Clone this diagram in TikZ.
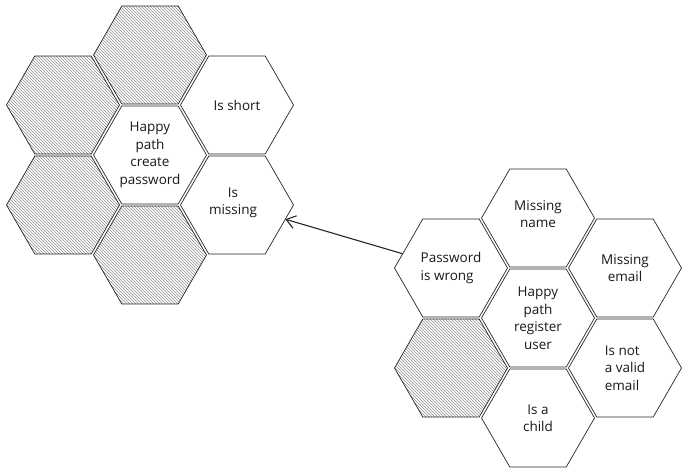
\documentclass[tikz,border=0pt]{standalone}
\usepackage{fontspec}
\setmainfont{Open Sans}
\usetikzlibrary{shapes.geometric, arrows.meta, patterns}

\begin{document}
\begin{tikzpicture}[x=1pt, y=-1pt,
  hex/.style={regular polygon, regular polygon sides=6, minimum size=113pt,
              inner sep=0pt, outer sep=0pt, draw=black!85, line width=0.7pt},
  blank/.style={hex, pattern=north west lines, pattern color=black!45},
  txt/.style={align=center, font=\fontsize{13.5}{17.5}\selectfont, text=black!90},
  ltxt/.style={txt, align=left},
  arr/.style={-{Straight Barb[length=9pt, width=13pt]}, line width=1.1pt, color=black!85},
]
\useasboundingbox (0,0) rectangle (690,474);

% --- Left cluster: create password ---
\node[hex, label={[txt]center:{Happy\\path\\create\\password}}] (create) at (150,155) {};
\node[blank] (topL) at (150,55) {};
\node[blank] (upL) at (63,105) {};
\node[blank] (lowL) at (63,205) {};
\node[blank] (botL) at (150,255) {};
\node[hex, label={[txt]center:Is short}] (short) at (237,105) {};
\node[hex, label={[txt, yshift=2pt, xshift=-4pt]center:{Is\\missing}}] (missing) at (237,205) {};

% --- Right cluster: register user ---
\node[hex, label={[txt]center:{Happy\\path\\register\\user}}] (register) at (538,318) {};
\node[hex, label={[txt, yshift=4pt]center:{Missing\\name}}] (name) at (538,218) {};
\node[hex, label={[ltxt]center:{Password\\is wrong}}] (wrong) at (451,268) {};
\node[hex, label={[txt]center:{Missing\\email}}] (email) at (625,268) {};
\node[blank] (lowR) at (451,368) {};
\node[hex, label={[ltxt]center:{Is not\\a valid\\email}}] (valid) at (625,368) {};
\node[hex, label={[txt]center:{Is a\\child}}] (child) at (538,418) {};

% --- Link between clusters ---
\draw[arr] (wrong) -- (missing);

\end{tikzpicture}
\end{document}
